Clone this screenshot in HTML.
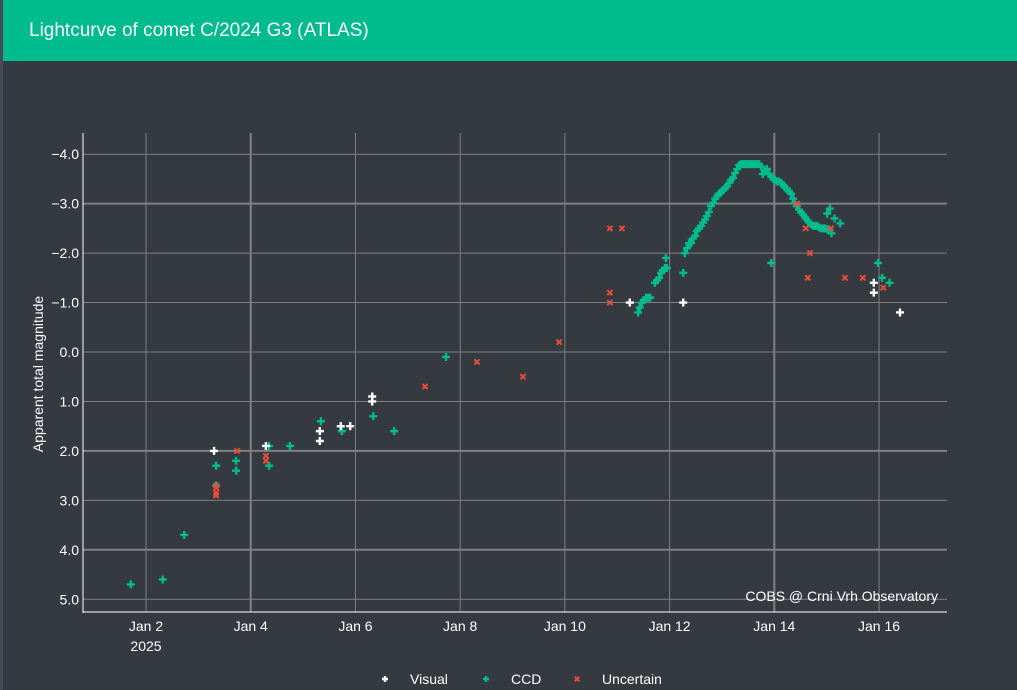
<!DOCTYPE html>
<html><head><meta charset="utf-8"><style>
html,body{margin:0;padding:0;background:#343a40;width:1017px;height:690px;overflow:hidden;font-family:"Liberation Sans",sans-serif}
#hdr{position:absolute;left:3px;top:0;width:1014px;height:61px;background:#00bc8c;color:#fff;font-size:19px;line-height:61px;padding-left:26px;box-sizing:border-box}
#edge{position:absolute;left:0;top:0;width:3px;height:690px;background:#444b52}
svg{position:absolute;left:0;top:0}
</style></head><body>
<div id="edge"></div>
<div id="hdr">Lightcurve of comet C/2024 G3 (ATLAS)</div>
<svg id="chart" width="1017" height="690"></svg>
<script>
const xTickDays=[2,4,6,8,10,12,14,16];
const xTickLabels=["Jan 2","Jan 4","Jan 6","Jan 8","Jan 10","Jan 12","Jan 14","Jan 16"];
const yTicks=[-4,-3,-2,-1,0,1,2,3,4,5];
const visualDays=[3.30,4.29,5.32,5.32,5.72,5.90,6.32,6.32,11.24,12.26,15.90,15.90,16.40];
const visualMags=[2.0,1.9,1.6,1.8,1.5,1.5,0.9,1.0,-1.0,-1.0,-1.4,-1.2,-0.8];
const ccdDays=[1.71,2.32,2.73,3.34,3.34,3.72,3.72,4.35,4.35,4.75,5.34,5.74,6.34,6.74,7.73,12.26,13.94,15.98,16.06,16.20,15.06,15.01,15.15,15.26,15.09,
11.40,11.43,11.47,11.51,11.55,11.59,11.63,
11.72,11.76,11.80,11.84,11.87,11.91,11.95,11.93,
12.29,12.33,12.37,12.41,12.45,12.49,12.52,12.56,12.60,12.64,12.68,12.71,12.75,12.79,12.83,12.87,12.91,12.94,12.98,13.02,13.06,13.10,13.14,13.17,13.21,13.25,13.29,13.33,13.36,
13.40,13.44,13.48,13.52,13.55,13.59,13.63,13.67,13.71,13.75,13.78,13.82,13.86,13.90,13.94,13.98,14.01,14.05,14.09,14.13,14.17,14.20,14.24,14.28,14.32,14.36,14.39,14.43,14.47,14.51,14.55,14.59,14.62,14.66,14.70,14.74,14.78,14.82,14.85,14.89,14.93,14.97,15.01,15.04];
const ccdMags=[4.7,4.6,3.7,2.3,2.7,2.2,2.4,1.9,2.3,1.9,1.4,1.6,1.3,1.6,0.1,-1.6,-1.8,-1.8,-1.5,-1.4,-2.9,-2.8,-2.7,-2.6,-2.4,
-0.8,-0.9,-1.0,-1.05,-1.1,-1.1,-1.1,
-1.4,-1.45,-1.5,-1.6,-1.65,-1.7,-1.7,-1.9,
-2.0,-2.1,-2.2,-2.2,-2.3,-2.35,-2.45,-2.5,-2.55,-2.62,-2.68,-2.75,-2.83,-2.95,-3.02,-3.1,-3.15,-3.2,-3.23,-3.27,-3.32,-3.35,-3.42,-3.48,-3.52,-3.62,-3.7,-3.78,-3.8,
-3.8,-3.8,-3.8,-3.8,-3.8,-3.8,-3.8,-3.8,-3.8,-3.75,-3.6,-3.65,-3.7,-3.6,-3.55,-3.5,-3.48,-3.45,-3.45,-3.42,-3.38,-3.33,-3.3,-3.25,-3.2,-3.1,-3.02,-2.95,-2.88,-2.82,-2.78,-2.72,-2.68,-2.62,-2.58,-2.55,-2.55,-2.55,-2.52,-2.5,-2.5,-2.5,-2.48,-2.48];
const uncDays=[3.34,3.34,3.34,3.34,3.74,4.29,4.29,7.33,8.32,9.20,9.89,10.86,11.09,10.86,10.86,14.43,14.60,14.68,14.64,15.08,15.35,15.69,16.08];
const uncMags=[2.7,2.75,2.85,2.9,2.0,2.1,2.2,0.7,0.2,0.5,-0.2,-2.5,-2.5,-1.2,-1.0,-3.0,-2.5,-2.0,-1.5,-2.5,-1.5,-1.5,-1.3];

const X=d=>146+(d-2)*52.36;
const Y=m=>352+m*49.45;
const svg=document.getElementById('chart');
const NS="http://www.w3.org/2000/svg";
function mk(tag,attrs,parent){const e=document.createElementNS(NS,tag);for(const k in attrs)e.setAttribute(k,attrs[k]);(parent||svg).appendChild(e);return e;}
const L=83,R=947,T=133,B=612;
xTickDays.forEach((d,i)=>{
  const g=mk('line',{x1:X(d),x2:X(d),y1:T,y2:B,stroke:'#808080','stroke-width':(d===4||d===14)?2:1});
  
  
  const t=mk('text',{x:X(d),y:631,fill:'#fff','font-size':14,'text-anchor':'middle'});
  t.textContent=xTickLabels[i];
  
  
});
const yr=mk('text',{x:X(2),y:651,fill:'#fff','font-size':14,'text-anchor':'middle'});yr.textContent='2025';


yTicks.forEach(m=>{
  const g=mk('line',{x1:L,x2:R,y1:Y(m),y2:Y(m),stroke:'#808080','stroke-width':(m===-3||m===2||m===4)?2:1});
  
  
  const t=mk('text',{x:79,y:Y(m)+5,fill:'#fff','font-size':14,'text-anchor':'end'});
  t.textContent=(m<0?'\u2212'+(-m).toFixed(1):m.toFixed(1));
  
  
});
const ax1=mk('line',{x1:L,x2:L,y1:T,y2:B+1,stroke:'#fff','stroke-width':1});


const ax2=mk('line',{x1:L,x2:R,y1:B,y2:B,stroke:'#fff','stroke-width':1});


const yt=mk('text',{x:0,y:0,fill:'#fff','font-size':14,'text-anchor':'middle',transform:'translate(43,374) rotate(-90)'});
yt.textContent='Apparent total magnitude';


const cr=mk('text',{x:938,y:601,fill:'#fff','font-size':14,'text-anchor':'end'});
cr.textContent='COBS @ Crni Vrh Observatory';


function plus(x,y,c,s){return mk('path',{d:`M${x-s},${y}H${x+s}M${x},${y-s}V${y+s}`,stroke:c,'stroke-width':2.4,fill:'none'});}
function cross(x,y,c,s){return mk('path',{d:`M${x-s},${y-s}L${x+s},${y+s}M${x-s},${y+s}L${x+s},${y-s}`,stroke:c,'stroke-width':2,fill:'none'});}
ccdDays.forEach((d,i)=>{const p=plus(X(d),Y(ccdMags[i]),'#00bc8c',4);

});
uncDays.forEach((d,i)=>{const p=cross(X(d),Y(uncMags[i]),'#e74c3c',2.6);

});
visualDays.forEach((d,i)=>{const p=plus(X(d),Y(visualMags[i]),'#ffffff',4);

});
const lg=[['Visual','#fff',385,'plus'],['CCD','#00bc8c',486,'plus'],['Uncertain','#e74c3c',577,'cross']];
lg.forEach(l=>{
  const m=l[3]==='plus'?plus(l[2],679,l[1],3):cross(l[2],679,l[1],2.3);
  
  
  const t=mk('text',{x:l[2]+25,y:684,fill:'#fff','font-size':14});
  t.textContent=l[0];
  
  
});
</script>
</body></html>
